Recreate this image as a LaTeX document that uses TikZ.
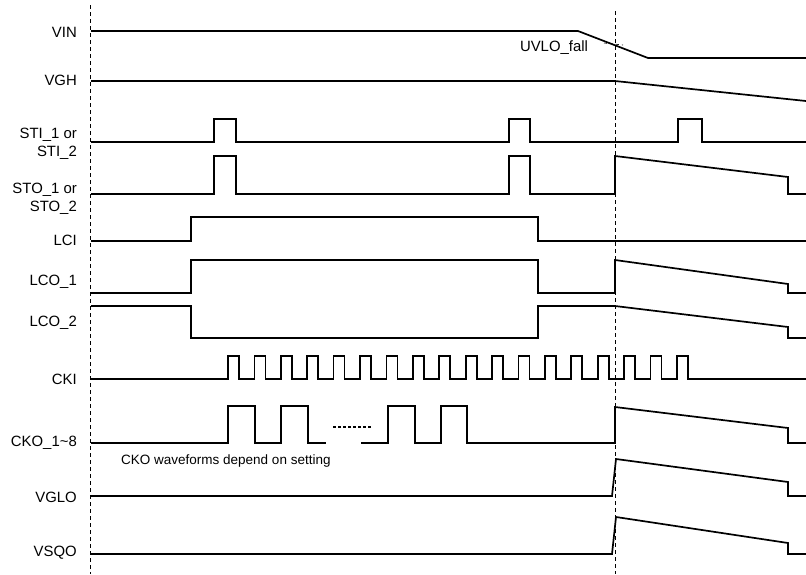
\documentclass[tikz,border=0pt]{standalone}
\usepackage{fontspec}
\setmainfont{Liberation Sans}
\begin{document}
\begin{tikzpicture}[x=1pt,y=-1pt,
  wave/.style={line width=1.7pt, line join=miter},
  vdash/.style={line width=0.9pt, dash pattern=on 4pt off 3pt},
  lbl/.style={anchor=east, inner sep=0pt, align=right, font=\fontsize{14.9}{17.5}\selectfont},
  note/.style={inner sep=0pt, font=\fontsize{13.5}{16}\selectfont}]
\useasboundingbox (0,0) rectangle (806,574);

% dashed reference lines
\draw[vdash] (90,5) -- (90,574);
\draw[vdash] (615,11) -- (615,574);

% labels
\node[lbl] (lvin) at (77,32) {VIN};
\node[lbl] (lvgh) at (77,80) {VGH};
\node[lbl] (lsti) at (77,144) {STI\_1 or\\STI\_2};
\node[lbl] (lsto) at (77,199) {STO\_1 or\\STO\_2};
\node[lbl] (llci) at (77,240) {LCI};
\node[lbl] (llco1) at (77,282) {LCO\_1};
\node[lbl] (llco2) at (77,323) {LCO\_2};
\node[lbl] (lcki) at (77,379) {CKI};
\node[lbl] (lcko) at (77,443) {CKO\_1\textasciitilde8};
\node[lbl] (lvglo) at (77,497) {VGLO};
\node[lbl] (lvsqo) at (77,553) {VSQO};

% VIN
\draw[wave] (91,31) -- (578,31) -- (648,58) -- (806,58);
\node[note, font=\fontsize{14.9}{17}\selectfont] (uvlo) at (554,48) {UVLO\_fall};
\draw[line width=0.6pt, dash pattern=on 3pt off 3pt] (604,43) -- (623,45);

% VGH
\draw[wave] (91,81) -- (615,81) -- (806,101);

% STI
\draw[wave] (91,142) -- (214,142) -- (214,119) -- (236,119) -- (236,142)
  -- (509,142) -- (509,119) -- (530,119) -- (530,142)
  -- (678,142) -- (678,119) -- (702,119) -- (702,142) -- (806,142);

% STO
\draw[wave] (91,194) -- (214,194) -- (214,156) -- (236,156) -- (236,194)
  -- (509,194) -- (509,156) -- (530,156) -- (530,194)
  -- (615,194) -- (615,156) -- (788,177) -- (788,194) -- (806,194);

% LCI
\draw[wave] (91,241) -- (191,241) -- (191,217) -- (538,217) -- (538,241) -- (806,241);

% LCO_1
\draw[wave] (91,293) -- (191,293) -- (191,260) -- (538,260) -- (538,293)
  -- (615,293) -- (615,260) -- (788,284) -- (788,293) -- (806,293);

% LCO_2
\draw[wave] (91,306) -- (191,306) -- (191,338) -- (538,338) -- (538,306)
  -- (615,306) -- (788,327) -- (788,338) -- (806,338);

% CKI
\draw[wave] (91,379)
  \foreach \k in {0,...,17}{ -- ({228+26.41*\k},379) -- ++(0,-23) -- ++(11,0) -- ++(0,23) }
  -- (806,379);

% CKO
\draw[wave] (91,443) -- (228,443) -- (228,406) -- (255,406) -- (255,443)
  -- (281,443) -- (281,406) -- (308,406) -- (308,443) -- (326,443);
\draw[line width=1.2pt, dash pattern=on 3pt off 2pt] (333,427) -- (371,427);
\draw[wave] (361,443) -- (388,443) -- (388,406) -- (415,406) -- (415,443)
  -- (441,443) -- (441,406) -- (467,406) -- (467,443)
  -- (615,443) -- (615,407) -- (788,428) -- (788,443) -- (806,443);
\node[note, anchor=west] (ckonote) at (121,461) {CKO waveforms depend on setting};

% VGLO
\draw[wave] (91,496) -- (612,496) -- (616,459) -- (788,482) -- (788,496) -- (806,496);

% VSQO
\draw[wave] (91,554) -- (612,554) -- (616,517) -- (788,543) -- (788,554) -- (806,554);
\end{tikzpicture}
\end{document}
